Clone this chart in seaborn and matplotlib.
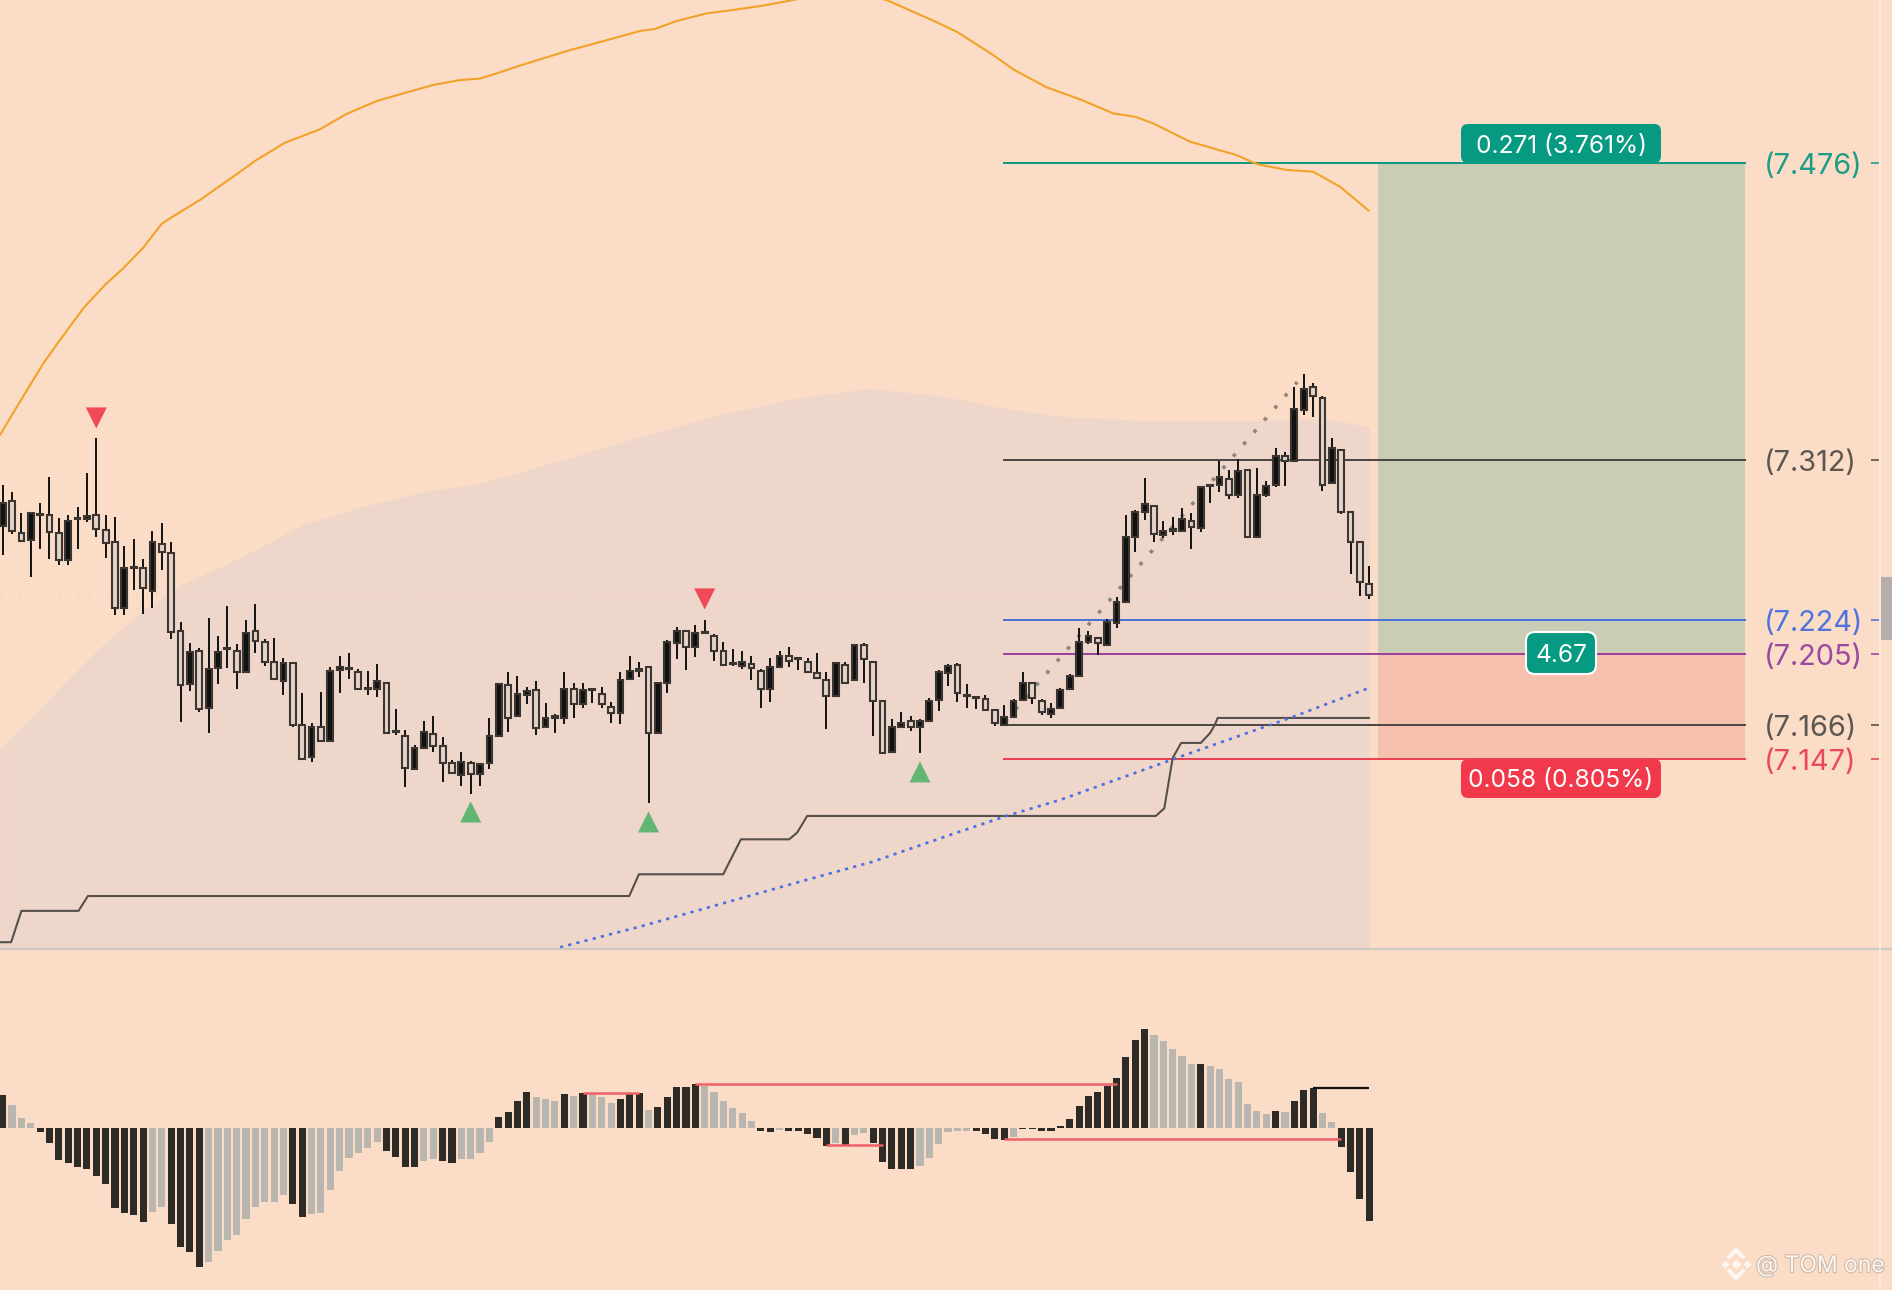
import numpy as np
import pandas as pd
import seaborn as sns
import matplotlib.pyplot as plt
import matplotlib.patheffects as pe
from matplotlib.lines import Line2D
from matplotlib.patches import FancyBboxPatch, Rectangle
from matplotlib.transforms import IdentityTransform

# --- candles ---
opens = [7.2757, 7.2895, 7.2717, 7.2680, 7.2818, 7.2818, 7.2717, 7.2570, 7.2796, 7.2794,
         7.2818, 7.2735, 7.2667, 7.2303, 7.2527, 7.2524, 7.2401, 7.2656, 7.2607, 7.2178,
         7.1883, 7.2067, 7.1751, 7.1972, 7.2080, 7.2067, 7.1953, 7.2178, 7.2119, 7.2005,
         7.1904, 7.2003, 7.1659, 7.1484, 7.1646, 7.1573, 7.1963, 7.1970, 7.1952, 7.1860,
         7.1856, 7.1889, 7.1620, 7.1598, 7.1414, 7.1534, 7.1609, 7.1543, 7.1451, 7.1383,
         7.1447, 7.1389, 7.1451, 7.1601, 7.1880, 7.1709, 7.1827, 7.1853, 7.1650, 7.1700,
         7.1700, 7.1858, 7.1773, 7.1851, 7.1829, 7.1757, 7.1724, 7.1911, 7.1957, 7.1978,
         7.1613, 7.1893, 7.2114, 7.2176, 7.2092, 7.2169, 7.2151, 7.2068, 7.1998, 7.1985,
         7.1998, 7.1957, 7.1856, 7.1981, 7.2038, 7.2022, 7.2005, 7.1948, 7.1908, 7.1821,
         7.1989, 7.1906, 7.2101, 7.2005, 7.1790, 7.1510, 7.1647, 7.1680, 7.1647, 7.1683,
         7.1796, 7.1948, 7.1991, 7.1819, 7.1808, 7.1803, 7.1742, 7.1661, 7.1702, 7.1797,
         7.1893, 7.1794, 7.1718, 7.1751, 7.1856, 7.1932, 7.2117, 7.2138, 7.2101, 7.2220,
         7.2340, 7.2699, 7.2837, 7.2866, 7.2708, 7.2732, 7.2732, 7.2785, 7.2748, 7.2977,
         7.2982, 7.3015, 7.2931, 7.3065, 7.2699, 7.2931, 7.2986, 7.3144, 7.3118, 7.3398,
         7.3523, 7.3464, 7.2997, 7.3175, 7.2835, 7.2668, 7.2438]
highs = [7.2984, 7.2947, 7.2831, 7.2831, 7.2886, 7.3030, 7.2800, 7.2818, 7.2861, 7.3048,
         7.3241, 7.2818, 7.2809, 7.2649, 7.2688, 7.2573, 7.2732, 7.2772, 7.2671, 7.2229,
         7.2113, 7.2082, 7.2251, 7.2152, 7.2318, 7.2104, 7.2239, 7.2327, 7.2132, 7.2141,
         7.2031, 7.2009, 7.1834, 7.1672, 7.1843, 7.1981, 7.2042, 7.2058, 7.1966, 7.1959,
         7.1994, 7.1893, 7.1745, 7.1631, 7.1549, 7.1683, 7.1711, 7.1595, 7.1466, 7.1512,
         7.1462, 7.1451, 7.1700, 7.1893, 7.1954, 7.1932, 7.1871, 7.1904, 7.1783, 7.1720,
         7.1954, 7.1889, 7.1893, 7.1862, 7.1871, 7.1785, 7.1954, 7.2042, 7.2009, 7.1981,
         7.1893, 7.2129, 7.2202, 7.2178, 7.2211, 7.2239, 7.2162, 7.2119, 7.2079, 7.2070,
         7.2040, 7.1969, 7.2031, 7.2070, 7.2092, 7.2031, 7.2027, 7.2059, 7.1954, 7.2009,
         7.2009, 7.2101, 7.2114, 7.2009, 7.1794, 7.1693, 7.1733, 7.1711, 7.1693, 7.1810,
         7.1963, 7.1994, 7.2003, 7.1884, 7.1816, 7.1825, 7.1746, 7.1770, 7.1801, 7.1954,
         7.1898, 7.1803, 7.1782, 7.1862, 7.1941, 7.2193, 7.2180, 7.2143, 7.2242, 7.2364,
         7.2818, 7.2846, 7.3021, 7.2870, 7.2787, 7.2809, 7.2859, 7.2828, 7.2978, 7.2984,
         7.3116, 7.3067, 7.3128, 7.3067, 7.3080, 7.3006, 7.3190, 7.3168, 7.3527, 7.3597,
         7.3549, 7.3475, 7.3245, 7.3177, 7.2837, 7.2671, 7.2537]
lows = [7.2597, 7.2711, 7.2675, 7.2478, 7.2629, 7.2573, 7.2542, 7.2542, 7.2629, 7.2781,
        7.2699, 7.2579, 7.2266, 7.2266, 7.2404, 7.2272, 7.2303, 7.2515, 7.2134, 7.1674,
        7.1847, 7.1733, 7.1613, 7.1885, 7.1972, 7.1856, 7.1944, 7.2055, 7.1985, 7.1911,
        7.1825, 7.1646, 7.1466, 7.1453, 7.1573, 7.1573, 7.1834, 7.1911, 7.1860, 7.1825,
        7.1812, 7.1613, 7.1604, 7.1315, 7.1411, 7.1527, 7.1512, 7.1343, 7.1392, 7.1324,
        7.1276, 7.1324, 7.1417, 7.1601, 7.1623, 7.1705, 7.1773, 7.1604, 7.1650, 7.1613,
        7.1663, 7.1700, 7.1751, 7.1783, 7.1755, 7.1672, 7.1663, 7.1908, 7.1923, 7.1227,
        7.1613, 7.1834, 7.2022, 7.1963, 7.2033, 7.2169, 7.2015, 7.1992, 7.1985, 7.1970,
        7.1908, 7.1751, 7.1785, 7.1981, 7.1981, 7.1963, 7.1954, 7.1911, 7.1635, 7.1821,
        7.1893, 7.1902, 7.1893, 7.1599, 7.1503, 7.1503, 7.1641, 7.1626, 7.1503, 7.1676,
        7.1735, 7.1875, 7.1785, 7.1751, 7.1746, 7.1742, 7.1654, 7.1661, 7.1702, 7.1797,
        7.1775, 7.1714, 7.1700, 7.1748, 7.1852, 7.1926, 7.2106, 7.2046, 7.2097, 7.2193,
        7.2336, 7.2612, 7.2791, 7.2671, 7.2693, 7.2708, 7.2723, 7.2631, 7.2723, 7.2886,
        7.2947, 7.2907, 7.2910, 7.2699, 7.2699, 7.2920, 7.2971, 7.2980, 7.3118, 7.3370,
        7.3358, 7.2951, 7.2993, 7.2822, 7.2493, 7.2371, 7.2353]
closes = [7.2883, 7.2732, 7.2675, 7.2831, 7.2824, 7.2723, 7.2570, 7.2785, 7.2802, 7.2815,
          7.2739, 7.2662, 7.2303, 7.2524, 7.2533, 7.2413, 7.2667, 7.2612, 7.2171, 7.1880,
          7.2064, 7.1745, 7.1966, 7.2064, 7.2086, 7.1953, 7.2165, 7.2123, 7.2009, 7.1911,
          7.1999, 7.1659, 7.1471, 7.1646, 7.1573, 7.1957, 7.1977, 7.1975, 7.1860, 7.1865,
          7.1902, 7.1613, 7.1626, 7.1423, 7.1534, 7.1619, 7.1543, 7.1451, 7.1392, 7.1457,
          7.1387, 7.1444, 7.1601, 7.1884, 7.1700, 7.1831, 7.1849, 7.1645, 7.1696, 7.1711,
          7.1858, 7.1773, 7.1853, 7.1856, 7.1773, 7.1724, 7.1908, 7.1957, 7.1969, 7.1613,
          7.1889, 7.2119, 7.2178, 7.2092, 7.2165, 7.2175, 7.2070, 7.1992, 7.2003, 7.2007,
          7.1972, 7.1856, 7.1978, 7.2040, 7.2011, 7.2027, 7.1954, 7.1921, 7.1821, 7.2000,
          7.1893, 7.2099, 7.2022, 7.1794, 7.1503, 7.1647, 7.1672, 7.1650, 7.1681, 7.1792,
          7.1952, 7.1987, 7.1834, 7.1827, 7.1814, 7.1742, 7.1668, 7.1705, 7.1790, 7.1889,
          7.1806, 7.1729, 7.1748, 7.1852, 7.1930, 7.2116, 7.2150, 7.2114, 7.2226, 7.2336,
          7.2695, 7.2833, 7.2877, 7.2712, 7.2728, 7.2739, 7.2794, 7.2750, 7.2975, 7.2982,
          7.3026, 7.2931, 7.3063, 7.2699, 7.2929, 7.2978, 7.3142, 7.3118, 7.3404, 7.3512,
          7.3477, 7.2986, 7.3186, 7.2835, 7.2671, 7.2450, 7.2377]

# --- moving average, band, trail stop, blue curve (x is candle number) ---
ma_x = [-0.29, 1.85, 4.34, 6.12, 8.61, 10.92, 12.88, 15.02, 16.98, 17.87, 21.07, 24.63, 27.12, 30.15,
        33.89, 36.73, 39.94, 42.43, 45.99, 48.84, 50.97, 53.13, 55.27, 60.25, 65.23, 68.08, 69.68, 72.0,
        75.2, 78.05, 81.25, 84.46, 89.5, 94.43, 99.41, 101.92, 105.83, 107.97, 111.53, 115.09, 118.65,
        120.96, 122.92, 126.84, 131.82, 133.96, 137.16, 140.01, 142.86, 145.95]
ma_y = [7.3260, 7.3444, 7.3655, 7.3784, 7.3959, 7.4088, 7.4180, 7.4294, 7.4425, 7.4456, 7.4557, 7.4686,
        7.4778, 7.4873, 7.4947, 7.5032, 7.5103, 7.5140, 7.5192, 7.5219, 7.5227, 7.5262, 7.5299, 7.5379,
        7.5449, 7.5490, 7.5501, 7.5545, 7.5587, 7.5606, 7.5630, 7.5661, 7.5720, 7.5661, 7.5547, 7.5486,
        7.5357, 7.5278, 7.5179, 7.5113, 7.5035, 7.5017, 7.4980, 7.4879, 7.4805, 7.4756, 7.4723, 7.4713,
        7.4631, 7.4498]
band_x = [-0.3, 3.6, 7.4, 11.3, 15.2, 19, 25.5, 32, 38.4, 44.8, 51.3, 60.3, 68, 77, 84.8, 92.5,
          100.2, 106.7, 113.1, 122.2, 132.5, 141.5, 146]
band_top = [7.1532, 7.1732, 7.1931, 7.2131, 7.2298, 7.2431, 7.2584, 7.2764, 7.2864, 7.2944, 7.2997,
            7.3130, 7.3250, 7.3377, 7.3463, 7.3516, 7.3477, 7.3410, 7.3363, 7.3337, 7.3337, 7.3350, 7.3303]
stop_x = [-0.3, 0.9, 2, 8.1, 9.1, 66.94, 67.97, 76.98, 78.87, 84.03, 84.88, 85.95, 123.2, 124.1, 125, 125.9, 128,
          129, 129.5, 129.8, 146]
stop_y = [7.0460, 7.0460, 7.0633, 7.0633, 7.0715, 7.0715, 7.0835, 7.0835, 7.1028, 7.1028, 7.1065, 7.1157,
          7.1157, 7.1199, 7.1477, 7.1560, 7.1560, 7.1615, 7.1660, 7.1698, 7.1698]
curve_x = [59.54, 68.08, 76.98, 85.17, 93, 101.54, 107.24, 112.94, 125.8, 137.9, 146]
curve_y = [7.0432, 7.0546, 7.0675, 7.0794, 7.0905, 7.1058, 7.1157, 7.1245, 7.1484, 7.1705, 7.1864]
trend_x = [107.1, 138.3]
trend_y = [7.1678, 7.3552]
sell_x = [10, 75]
sell_y = [7.3354, 7.2355]
buy_x = [50, 69, 98]
buy_y = [7.1179, 7.1124, 7.1400]

# --- levels ---
level_values = [7.476, 7.312, 7.224, 7.205, 7.166, 7.147]
level_labels = ['(7.476)', '(7.312)', '(7.224)', '(7.205)', '(7.166)', '(7.147)']
level_colors = ['#0a9981', '#4a4540', '#4a6fd8', '#9c3c9c', '#4a4540', '#e8404f']
label_colors = ['#1f9c86', '#5c5650', '#4f74dc', '#9a48a0', '#5c5650', '#ea4a58']

# --- oscillator ---
hist = [3.33, 2.33, 1.00, 0.50, -0.33, -1.50, -3.17, -3.50, -3.83, -4.10, -4.73, -5.60, -8.00, -8.43, -8.70,
        -9.33, -8.40, -7.90, -9.60, -11.90, -12.40, -13.83, -13.40, -12.27, -11.17, -10.70, -9.10, -7.90, -7.40,
        -7.40, -6.67, -7.60, -8.90, -8.57, -8.43, -6.17, -4.27, -3.00, -2.43, -2.00, -1.40, -2.30, -2.83, -3.90,
        -3.90, -3.27, -3.10, -3.30, -3.50, -3.10, -3.07, -2.50, -1.40, 1.10, 1.67, 2.77, 3.60, 3.17, 2.90, 2.77,
        3.40, 3.27, 3.50, 3.40, 3.10, 2.50, 2.90, 3.40, 3.57, 1.83, 2.10, 3.17, 4.10, 4.10, 4.43, 4.23, 3.67,
        2.77, 2.00, 1.57, 0.77, -0.27, -0.40, -0.17, -0.27, -0.27, -0.57, -1.00, -1.77, -1.43, -1.67, -0.67, -0.50,
        -1.50, -3.40, -4.03, -4.10, -4.10, -3.77, -3.00, -1.60, -0.40, -0.23, -0.27, -0.23, -0.60, -1.10, -1.17,
        -0.87, -0.07, -0.07, -0.27, -0.27, 0.20, 0.93, 2.23, 3.23, 3.63, 4.23, 5.00, 7.10, 8.83, 9.93, 9.33, 8.73,
        7.93, 7.27, 6.40, 6.43, 6.23, 5.97, 4.90, 4.63, 2.40, 1.70, 1.43, 1.73, 1.60, 2.73, 3.83, 4.03, 1.57, 0.60,
        -1.90, -4.40, -7.10, -9.23]
# d = dark bar, g = grey bar, ten to a group
hist_shade = list('dgggdddddd' 'ddddddggdd' 'ddgggggggg' 'gddggggggg' 'gddddggddg'
                  'gggddddggg' 'dgdgggdddg' 'dddddggggg' 'gddgdddddg' 'dggdddddgg'
                  'ggggddddgd' 'dddddddddd' 'dddgggggdg' 'ggggggdgdd' 'dggdddd')
red_spans = [(62, 68, 3.50), (74, 119, 4.40), (88, 94, -1.67), (107, 143, -1.07)]
black_span = (140, 146, 4.00)

BG = '#fbdcc6'
BLACK = '#111111'
EDGE = '#3b3631'
TEAL = '#069a82'
RED = '#f2384b'

sns.set_theme(style='white', rc={'axes.facecolor': BG, 'figure.facecolor': BG})
plt.rcParams['font.family'] = ['Inter', 'DejaVu Sans']

W, H = 1892, 1290
fig = plt.figure(figsize=(W / 100, H / 100), dpi=100)
ax = fig.add_axes([0, 338 / H, 1, 952 / H])
ax2 = fig.add_axes([0, 0, 1, 342 / H])

candles = pd.DataFrame({'open': opens, 'high': highs, 'low': lows, 'close': closes})
candles['i'] = candles.index
up = candles[candles.close >= candles.open]
down = candles[candles.close < candles.open]

# band behind everything
ax.fill_between(band_x, band_top, 7.0429, color='#efd6ca', lw=0, zorder=1)
ax.hlines(7.2381, -0.3, 146, colors='#e6cbb8', ls=(0, (1, 6)), lw=1, zorder=1)

# position tool
ax.add_patch(Rectangle((146.9, 7.205), 39.2, 0.271, fc='#c9cdb5', ec='none', zorder=1))
ax.add_patch(Rectangle((146.9, 7.147), 39.2, 0.058, fc='#f6c0af', ec='none', zorder=1))

for val, col, lab_col, lab in zip(level_values, level_colors, label_colors, level_labels):
    ax.hlines(val, 106.9, 186.3, colors=col, lw=1.4, zorder=2)
    ax.hlines(val, 199.6, 200.5, colors=lab_col, lw=1.2, zorder=2)
    ax.annotate(lab, (188.2, val), xytext=(0, -2.6), textcoords='offset points', color=lab_col, fontsize=20.8,
                ha='left', va='center', zorder=6)

sns.lineplot(x=ma_x, y=ma_y, sort=False, estimator=None, color='#f2a228', lw=1.5, ax=ax, zorder=2)
sns.lineplot(x=stop_x, y=stop_y, sort=False, estimator=None, color='#55504b', lw=1.5, ax=ax, zorder=2)
ax.plot(curve_x, curve_y, color='#4a6fe0', lw=1.9, ls=(0, (1.2, 2)), zorder=2)
ax.plot(trend_x, trend_y, color='#8f8578', lw=2.6, ls=(0, (1, 3.4)), zorder=2)

# candles
ax.vlines(candles.i, candles.low, candles.high, colors=BLACK, lw=1.4, zorder=3)
ax.bar(down.i, (down.open - down.close), bottom=down.close, width=0.62, color='#e4d3c8', edgecolor=EDGE, lw=1.5, zorder=4)
ax.bar(up.i, (up.close - up.open).clip(lower=0.0005), bottom=up.open, width=0.62, color=BLACK, edgecolor=EDGE, lw=1.5, zorder=4)

sns.scatterplot(x=sell_x, y=sell_y, marker='v', s=230, color='#ee4a58', edgecolor='none', ax=ax, zorder=5)
sns.scatterplot(x=buy_x, y=buy_y, marker='^', s=230, color='#63b574', edgecolor='none', ax=ax, zorder=5)

ax.set_xlim(-0.288, 201.85)
ax.set_ylim(7.0406, 7.5661)
ax.hlines(7.0422, -0.288, 201.85, colors='#cfc9c3', lw=1.6, zorder=5)

# oscillator
x_hist = np.arange(len(hist))
sns.barplot(x=x_hist, y=hist, hue=hist_shade, palette={'d': '#2e2a26', 'g': '#b9b6af'}, dodge=False,
            native_scale=True, width=0.76, saturation=1, linewidth=0, legend=False, ax=ax2, zorder=2)
for x0, x1, val in red_spans:
    ax2.hlines(val, x0, x1, colors='#f0606a', lw=1.8, zorder=3)
ax2.hlines(black_span[2], black_span[0], black_span[1], colors='#111111', lw=1.6, zorder=3)
ax2.set_xlim(-0.288, 201.85)
ax2.set_ylim(-16.17, 18.03)

for a in (ax, ax2):
    a.axis('off')


# pixel helpers for the badges, scroll thumb and watermark
def badge(x0, y0, x1, y1, color, edge='none', lw=0, r=7):
    fig.add_artist(FancyBboxPatch((x0 + r, H - y1 + r), x1 - x0 - 2 * r, y1 - y0 - 2 * r,
                                  boxstyle=f'round,pad={r},rounding_size={r}', fc=color, ec=edge, lw=lw,
                                  transform=IdentityTransform(), zorder=10))


badge(1461, 124, 1661, 163, TEAL)
badge(1461, 759, 1661, 798, RED)
badge(1526, 632, 1596, 674, TEAL, edge='white', lw=1.5, r=9)
fig.text(1561 / W, 1 - 146.5 / H, '0.271 (3.761%)', color='white', fontsize=17.7, ha='center', va='center', zorder=11)
fig.text(1561 / W, 1 - 780.5 / H, '0.058 (0.805%)', color='white', fontsize=17.7, ha='center', va='center', zorder=11)
fig.text(1561 / W, 1 - 656 / H, '4.67', color='white', fontsize=17.7, ha='center', va='center', zorder=11)

fig.add_artist(Line2D([1880, 1880], [0, H], color='#fdeee3', lw=1.2, transform=IdentityTransform(), zorder=9))
fig.add_artist(Rectangle((1881, H - 640), 11, 63, fc='#b5aeaa', ec='none', transform=IdentityTransform(), zorder=9))

# watermark
wm = '#fff6ef'
shadow = [pe.withStroke(linewidth=1.5, foreground='#c9b8ab')]
fig.text(1756 / W, 1 - 1266 / H, '@ TOM one', color=wm, fontsize=16.5, ha='left', va='center', zorder=12,
         path_effects=shadow)
for dx, dy, s in [(0, 0, 5), (-11, 0, 4), (11, 0, 4)]:
    fig.add_artist(Line2D([1736 + dx], [H - 1264 + dy], marker='D', ms=s, color=wm, mec='none',
                          transform=IdentityTransform(), zorder=12))
for sign in (1, -1):
    fig.add_artist(Line2D([1729, 1736, 1743], [H - 1264 + sign * 7, H - 1264 + sign * 14, H - 1264 + sign * 7],
                          color=wm, lw=3, transform=IdentityTransform(), zorder=12))

fig.savefig('out.png', dpi=100, facecolor=BG)
